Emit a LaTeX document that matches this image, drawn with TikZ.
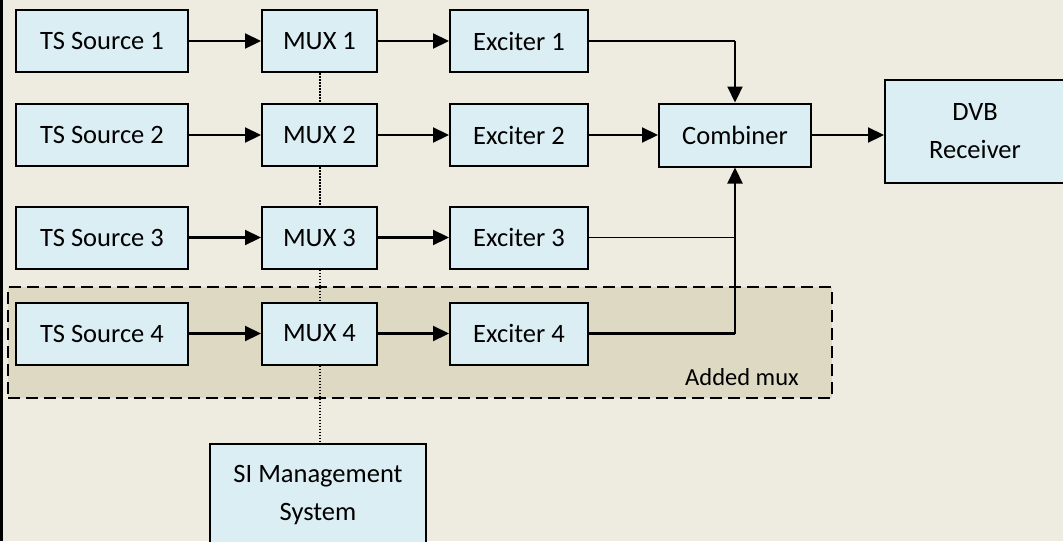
\documentclass[tikz,border=0pt]{standalone}
\usepackage{fontspec}
\setmainfont{Carlito}
\usetikzlibrary{arrows.meta}
\definecolor{bg}{HTML}{EEECE1}
\definecolor{boxfill}{HTML}{DBEEF4}
\definecolor{grpfill}{HTML}{DDD9C3}
\begin{document}
\begin{tikzpicture}[x=1pt,y=-1pt,
  font=\fontsize{26.5}{38}\selectfont,
  blk/.style={draw=black, line width=2pt, fill=boxfill, minimum height=62pt, inner sep=0pt, align=center},
  arr/.style={line width=2.2pt, -{Triangle[length=16pt,width=15pt]}},
  thinline/.style={line width=1.3pt},
  thickline/.style={line width=2.2pt},
  dots/.style={line width=2pt, dash pattern=on 1.5pt off 1.5pt},
  grp/.style={draw=black, line width=2pt, dash pattern=on 12pt off 6pt, fill=grpfill, inner sep=0pt}]
\clip (0,0) rectangle (1063,541);
\useasboundingbox (0,0) rectangle (1063,541);
\fill[bg] (0,0) rectangle (1063,541);
\fill[black] (0,0) rectangle (2.5,541);
% group box
\node[grp, minimum width=824pt, minimum height=111pt] (added) at (420,342.5) {};
\node[font=\fontsize{24.5}{30}\selectfont] (lbl) at (742,377) {Added mux};
% row 1
\node[blk, minimum width=172pt] (ts1) at (102,41) {TS Source 1};
\node[blk, minimum width=115pt] (mux1) at (319.5,41) {MUX 1};
\node[blk, minimum width=138pt] (ex1) at (519,41) {Exciter 1};
% row 2
\node[blk, minimum width=172pt] (ts2) at (102,135) {TS Source 2};
\node[blk, minimum width=115pt] (mux2) at (319.5,135) {MUX 2};
\node[blk, minimum width=138pt] (ex2) at (519,135) {Exciter 2};
% row 3
\node[blk, minimum width=172pt] (ts3) at (102,237.5) {TS Source 3};
\node[blk, minimum width=115pt] (mux3) at (319.5,237.5) {MUX 3};
\node[blk, minimum width=138pt] (ex3) at (519,237.5) {Exciter 3};
% row 4
\node[blk, minimum width=172pt] (ts4) at (102,333.5) {TS Source 4};
\node[blk, minimum width=115pt] (mux4) at (319.5,333.5) {MUX 4};
\node[blk, minimum width=138pt] (ex4) at (519,333.5) {Exciter 4};
% right side
\node[blk, minimum width=152pt, minimum height=63pt] (comb) at (735,135) {Combiner};
\node[blk, minimum width=180pt, minimum height=103pt] (dvb) at (975,131.5) {DVB\\Receiver};
\node[blk, minimum width=216pt, minimum height=103pt] (si) at (318,495.5) {SI Management\\System};
\coordinate (c1) at (comb.north |- ex1.east);
\coordinate (c3) at (comb.south |- ex3.east);
\coordinate (c4) at (comb.south |- ex4.east);
% connectors
\foreach \i in {1,2,3,4} {
  \draw[arr] (ts\i) -- (mux\i);
  \draw[arr] (mux\i) -- (ex\i);
}
\draw[thinline] (ex1.east) -- (c1);
\draw[arr] (c1) -- (comb.north);
\draw[arr] (ex2) -- (comb);
\draw[thinline] (ex3.east) -- (c3);
\draw[thickline] (ex4.east) -- (c4);
\draw[arr] (c4) -- (comb.south);
\draw[arr] (comb.east) -- (comb.east -| dvb.west);
% dotted links
\draw[dots] (mux1.south) -- (mux2.north);
\draw[dots] (mux2.south) -- (mux3.north);
\draw[dots] (mux3.south) -- (mux4.north);
\draw[dots] (mux4.south) -- (mux4.south |- si.north);
\end{tikzpicture}
\end{document}
